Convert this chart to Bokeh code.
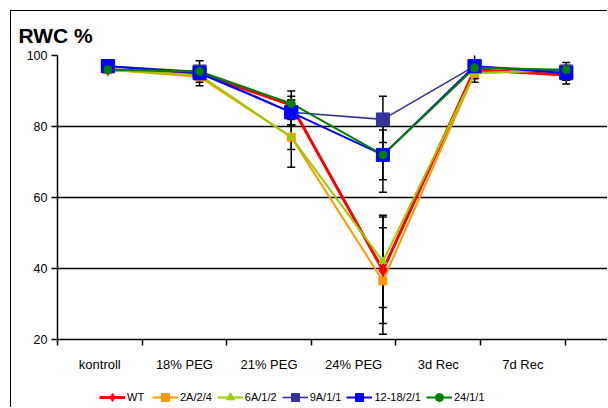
from bokeh.plotting import figure
from bokeh.layouts import column
from bokeh.models import (ColumnDataSource, Whisker, TeeHead, FixedTicker, Grid,
                          Legend, LegendItem, Range1d)
from bokeh.embed import file_html
from bokeh.resources import INLINE

categories = ["kontroll", "18% PEG", "21% PEG", "24% PEG", "3d Rec", "7d Rec"]
series_names = ["WT", "2A/2/4", "6A/1/2", "9A/1/1", "12-18/2/1", "24/1/1"]
wt = [96, 95, 86, 39.5, 96, 94.5]
wt_err = [1, 1.5, 4, 15, 1.5, 1.5]
a2 = [96, 94, 77, 36.5, 95, 96]
a2_err = [1, 1.5, 8.5, 15, 1.5, 1.2]
a6 = [96, 94.5, 77, 42, 95, 96]
a6_err = [1, 1.5, 3.5, 13, 1.5, 1]
a9 = [97, 95.5, 84, 82, 97, 95.5]
a9_err = [0.5, 1, 3.5, 6.5, 1, 1]
b12 = [97, 95, 84, 72, 97, 95]
b12_err = [0.5, 3.5, 3.5, 7, 4.5, 3]
g24 = [96, 95.5, 86.5, 72, 96.5, 96]
g24_err = [0.5, 1, 2, 10.5, 1, 1]
y_ticks = [20, 40, 60, 80, 100]

values = [wt, a2, a6, a9, b12, g24]
errors = [wt_err, a2_err, a6_err, a9_err, b12_err, g24_err]
colors = ["#FF0000", "#FF9900", "#99CC00", "#333399", "#0000FF", "#008000"]
markers = ["diamond", "square", "triangle", "square", "square", "circle"]
msizes = [12, 8, 8, 13, 13, 8]
lwidths = [3, 2, 2, 1.6, 2, 2]

# series sit on their own slightly wider category scale (6 categories over 6.5 units)
n = len(categories)
step = 6.5 / n
xs = [(i + 0.55) * step for i in range(n)]
centers = [i + 0.5 for i in range(n)]
bounds = [float(i) for i in range(n + 1)]

FONT = "Liberation Sans"

p = figure(width=596, height=376, output_backend="svg", toolbar_location=None,
           x_range=Range1d(0, 6.5), y_range=Range1d(20, 100),
           min_border_left=46, min_border_right=0, min_border_top=44,
           min_border_bottom=48, title="RWC %")
p.outline_line_color = None
p.background_fill_color = "white"
p.border_fill_color = "white"

p.title.text_font = FONT
p.title.text_font_size = "21px"
p.title.text_font_style = "bold"
p.title.text_color = "black"
p.title.align = "left"
p.title.offset = -39
p.title.standoff = 18

# axes
p.xaxis.ticker = FixedTicker(ticks=centers, minor_ticks=bounds)
p.xaxis.major_label_overrides = {c: lab for c, lab in zip(centers, categories)}
p.xaxis.major_tick_out = 0
p.xaxis.major_tick_in = 0
p.xaxis.minor_tick_out = 6
p.xaxis.minor_tick_in = 0
p.xaxis.minor_tick_line_color = "black"
p.xaxis.minor_tick_line_width = 1.5
p.xaxis.axis_line_color = "black"
p.xaxis.axis_line_width = 1.5
p.xaxis.major_label_standoff = 11
p.xaxis.major_label_text_font = FONT
p.xaxis.major_label_text_font_size = "13px"
p.xaxis.major_label_text_color = "black"

p.yaxis.ticker = FixedTicker(ticks=y_ticks)
p.yaxis.minor_tick_line_color = None
p.yaxis.major_tick_out = 6
p.yaxis.major_tick_in = 0
p.yaxis.major_tick_line_color = "black"
p.yaxis.major_tick_line_width = 1.5
p.yaxis.axis_line_color = "black"
p.yaxis.axis_line_width = 1.5
p.yaxis.major_label_text_font = FONT
p.yaxis.major_label_text_font_size = "12.5px"
p.yaxis.major_label_text_color = "black"
p.yaxis.major_label_standoff = 4

p.xgrid.grid_line_color = None
p.ygrid.ticker = FixedTicker(ticks=[40, 60, 80])
p.ygrid.grid_line_color = "black"
p.ygrid.grid_line_width = 1.3
p.add_layout(Grid(dimension=1, ticker=FixedTicker(ticks=[100]),
                  grid_line_color="#999999", grid_line_width=2))

for vals, col, lw in zip(values, colors, lwidths):
    p.line(xs, vals, line_color=col, line_width=lw)

for vals, errs in zip(values, errors):
    src = ColumnDataSource(dict(x=xs,
                                upper=[v + e for v, e in zip(vals, errs)],
                                lower=[v - e for v, e in zip(vals, errs)]))
    p.add_layout(Whisker(base="x", upper="upper", lower="lower", source=src,
                         line_color="black", line_width=1.5,
                         upper_head=TeeHead(size=8, line_color="black", line_width=1.5),
                         lower_head=TeeHead(size=8, line_color="black", line_width=1.5)))

for vals, col, mk, ms in zip(values, colors, markers, msizes):
    p.scatter(xs, vals, marker=mk, size=ms, fill_color=col, line_color=col)

# legend strip under the chart: renderers styled like the series, their data kept off-view
lg = figure(width=596, height=20, output_backend="svg", toolbar_location=None,
            x_range=Range1d(0, 1), y_range=Range1d(0, 1),
            x_axis_location=None, y_axis_location=None,
            min_border_left=0, min_border_right=0, min_border_top=0, min_border_bottom=0)
lg.grid.grid_line_color = None
lg.outline_line_color = None
items = []
for nm, vals, col, mk, lw in zip(series_names, values, colors, markers, lwidths):
    l = lg.line(xs, vals, line_color=col, line_width=lw)
    d = lg.scatter(xs, vals, marker=mk, fill_color=col, line_color=col)
    items.append(LegendItem(label=nm, renderers=[l, d]))
legend = Legend(items=items, orientation="horizontal", location=(42, 0),
                glyph_width=26, glyph_height=20, label_standoff=2, spacing=5,
                padding=0, margin=0, border_line_color=None,
                background_fill_alpha=0,
                label_text_font=FONT, label_text_font_size="11px",
                label_text_color="black")
lg.add_layout(legend)

layout = column(p, lg, spacing=0)
layout.styles = {"margin-left": "10px", "margin-top": "10px",
                 "border-left": "1.5px solid black", "border-top": "1.5px solid black"}

open("out.html", "w").write(file_html(layout, INLINE))
